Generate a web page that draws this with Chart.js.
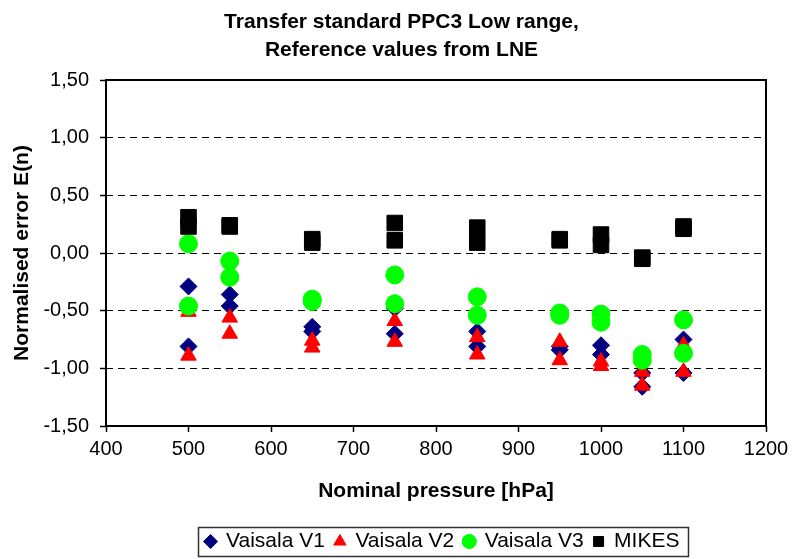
<!DOCTYPE html>
<html>
<head>
<meta charset="utf-8">
<script src="https://cdn.jsdelivr.net/npm/chart.js@4/dist/chart.umd.min.js"></script>
<style>
  body { margin: 0; background: #fff; }
  canvas { display: block; }
</style>
</head>
<body>
<canvas id="myChart" width="793" height="559"></canvas>
<script>
// nominal pressures, two readings per point
const pressure = [500, 500, 550, 550, 650, 650, 750, 750, 850, 850, 950, 950, 1000, 1000, 1050, 1050, 1100, 1100];

// normalised error E(n) per instrument
const vaisalaV1 = [-0.29, -0.81, -0.36, -0.46, -0.64, -0.68, -0.48, -0.70, -0.68, -0.81, -0.81, -0.84, -0.80, -0.88, -1.04, -1.16, -0.75, -1.04];
const vaisalaV2 = [-0.51, -0.89, -0.56, -0.70, -0.76, -0.82, -0.59, -0.77, -0.73, -0.88, -0.77, -0.93, -0.94, -0.98, -1.03, -1.15, -0.80, -1.03];
const vaisalaV3 = [0.08, -0.46, -0.07, -0.21, -0.40, -0.42, -0.19, -0.44, -0.38, -0.54, -0.52, -0.54, -0.53, -0.60, -0.88, -0.93, -0.58, -0.87];
const mikes = [0.31, 0.23, 0.24, 0.23, 0.12, 0.09, 0.26, 0.11, 0.22, 0.09, 0.12, 0.11, 0.16, 0.07, -0.05, -0.04, 0.23, 0.21];

const seriesNames = ['Vaisala V1', 'Vaisala V2', 'Vaisala V3', 'MIKES'];

const toPoints = vals => vals.map((v, i) => ({ x: pressure[i], y: v }));

Chart.defaults.font.family = "'Liberation Sans', Arial, sans-serif";
Chart.defaults.color = '#000';

// plot frame + box round the legend, and nudge the legend under the plot
const frame = {
  id: 'frame',
  afterLayout(chart) {
    chart.legend.left = 92;
    chart.legend.top += 3;
    chart.legend.bottom += 3;
  },
  afterDraw(chart) {
    const ctx = chart.ctx;
    const a = chart.chartArea;
    ctx.save();
    ctx.strokeStyle = '#000';
    ctx.lineWidth = 2;
    ctx.strokeRect(a.left, a.top, a.right - a.left, a.bottom - a.top);

    const boxes = chart.legend.legendHitBoxes;
    if (boxes && boxes.length) {
      const l = Math.min(...boxes.map(b => b.left)) - 8;
      const r = Math.max(...boxes.map(b => b.left + b.width)) + 8;
      const t = Math.min(...boxes.map(b => b.top)) - 4;
      const btm = Math.max(...boxes.map(b => b.top + b.height)) + 4;
      ctx.lineWidth = 1.5;
      ctx.strokeStyle = '#333';
      ctx.strokeRect(Math.round(l) + 0.5, Math.round(t) + 0.5, Math.round(r - l), Math.round(btm - t));
    }
    ctx.restore();
  }
};

const ctx = document.getElementById('myChart').getContext('2d');
new Chart(ctx, {
  type: 'scatter',
  data: {
    datasets: [
      {
        label: seriesNames[0],
        data: toPoints(vaisalaV1),
        pointStyle: 'rectRot',
        pointRadius: 8.5,
        backgroundColor: '#000080',
        borderColor: '#000080',
        borderWidth: 1,
        order: 4
      },
      {
        label: seriesNames[1],
        data: toPoints(vaisalaV2),
        pointStyle: 'triangle',
        pointRadius: 9,
        backgroundColor: '#ff0000',
        borderColor: '#ff0000',
        borderWidth: 1,
        order: 3
      },
      {
        label: seriesNames[2],
        data: toPoints(vaisalaV3),
        pointStyle: 'circle',
        pointRadius: 9,
        backgroundColor: '#00ff00',
        borderColor: '#00ff00',
        borderWidth: 1,
        order: 2
      },
      {
        label: seriesNames[3],
        data: toPoints(mikes),
        pointStyle: 'rect',
        pointRadius: 11,
        backgroundColor: '#000000',
        borderColor: '#000000',
        borderWidth: 1,
        order: 1
      }
    ]
  },
  options: {
    responsive: false,
    animation: false,
    layout: { padding: { left: 10, right: 0, top: 0, bottom: 0 } },
    plugins: {
      title: {
        display: true,
        text: ['Transfer standard PPC3 Low range,', 'Reference values from LNE'],
        font: { size: 21, weight: 'bold', lineHeight: 28 / 21 },
        color: '#000',
        padding: { top: 8, bottom: 16 }
      },
      legend: {
        position: 'bottom',
        labels: {
          usePointStyle: true,
          boxWidth: 10,
          boxHeight: 10,
          padding: 10,
          color: '#000',
          font: { size: 21 },
          sort: (a, b) => a.datasetIndex - b.datasetIndex
        }
      },
      tooltip: { enabled: false }
    },
    scales: {
      x: {
        type: 'linear',
        min: 400,
        max: 1200,
        ticks: {
          stepSize: 100,
          padding: 5,
          font: { size: 20 },
          color: '#000',
          maxRotation: 0,
          callback: v => String(v)
        },
        grid: { drawOnChartArea: false, drawTicks: true, tickLength: 6, tickColor: '#000', tickWidth: 1.5 },
        border: { display: false },
        title: {
          display: true,
          text: 'Nominal pressure [hPa]',
          font: { size: 21, weight: 'bold' },
          color: '#000',
          padding: { top: 0, bottom: 14 }
        },
        afterFit: scale => {
          scale.height = 92;
          scale.paddingRight = 27;
        }
      },
      y: {
        min: -1.5,
        max: 1.5,
        ticks: {
          stepSize: 0.5,
          padding: 11,
          font: { size: 20 },
          color: '#000',
          callback: v => v.toFixed(2).replace('.', ',')
        },
        grid: { color: '#000', lineWidth: 1, tickLength: 6, tickColor: '#000', tickWidth: 1.5 },
        border: { display: false, dash: [7, 5] },
        title: {
          display: true,
          text: 'Normalised error E(n)',
          font: { size: 21, weight: 'bold' },
          color: '#000',
          padding: { top: 0, bottom: 0 }
        },
        afterFit: scale => {
          scale.width = 96;
        }
      }
    }
  },
  plugins: [frame]
});
</script>
</body>
</html>
